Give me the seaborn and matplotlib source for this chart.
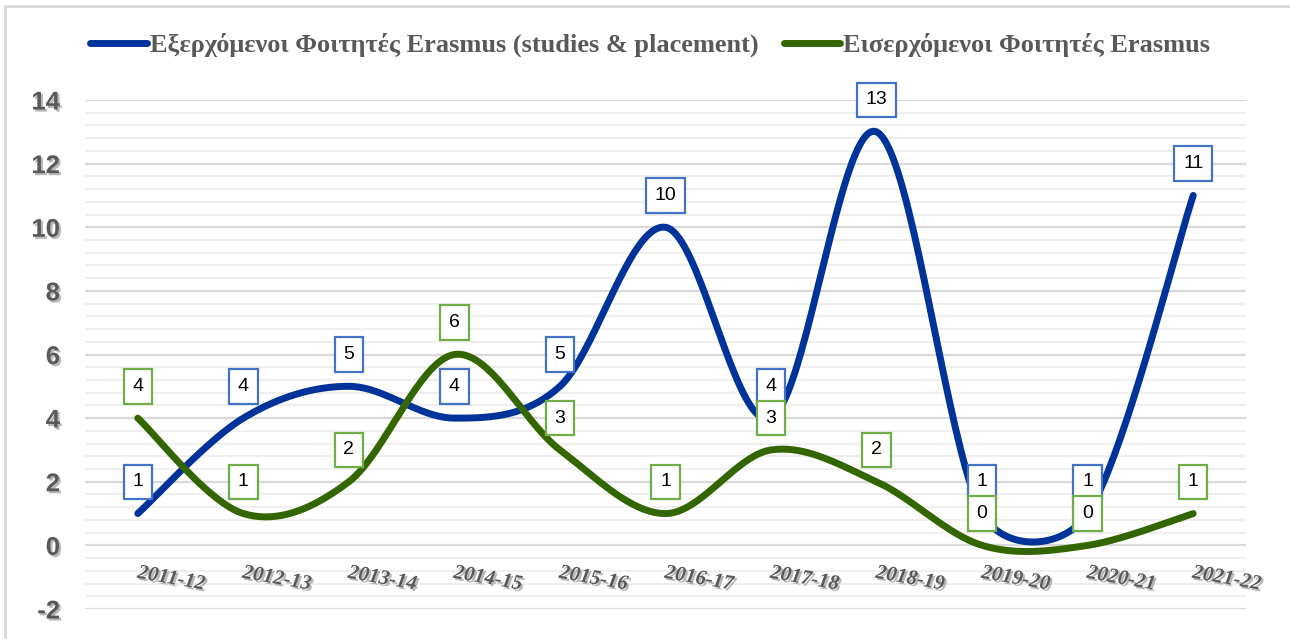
import numpy as np
import pandas as pd
import matplotlib
matplotlib.use("Agg")
import matplotlib.pyplot as plt
import matplotlib.patheffects as pe
import seaborn as sns

# data
years = ["2011-12", "2012-13", "2013-14", "2014-15", "2015-16", "2016-17",
         "2017-18", "2018-19", "2019-20", "2020-21", "2021-22"]
outgoing = [1, 4, 5, 4, 5, 10, 4, 13, 1, 1, 11]
incoming = [4, 1, 2, 6, 3, 1, 3, 2, 0, 0, 1]
label_out = "Εξερχόμενοι Φοιτητές Erasmus (studies & placement)"
label_in = "Εισερχόμενοι Φοιτητές Erasmus"
yticks = [-2, 0, 2, 4, 6, 8, 10, 12, 14]

BLUE = "#003399"
GREEN = "#336600"
BOX_BLUE = "#4472C4"
BOX_GREEN = "#70AD47"
GREY = "#595959"

# pixels per data unit, so the smoothing behaves like a screen-space spline
PX_X = 105.7
PX_Y = 31.8


def smooth_curve(values, clamp=0.42, n=40):
    """Catmull-Rom style bezier (tension 1/6), control arms clamped on short segments."""
    P = np.array([[i * PX_X, v * PX_Y] for i, v in enumerate(values)], float)
    m = len(P)
    tang = []
    for i in range(m):
        a = P[max(i - 1, 0)]
        b = P[min(i + 1, m - 1)]
        tang.append((b - a) / 6.0)
    xs, ys = [], []
    t = np.linspace(0, 1, n)
    for i in range(m - 1):
        L = np.linalg.norm(P[i + 1] - P[i])
        t1, t2 = tang[i], tang[i + 1]
        if np.linalg.norm(t1) > clamp * L:
            t1 = t1 / np.linalg.norm(t1) * clamp * L
        if np.linalg.norm(t2) > clamp * L:
            t2 = t2 / np.linalg.norm(t2) * clamp * L
        c1 = P[i] + t1
        c2 = P[i + 1] - t2
        pts = (((1 - t) ** 3)[:, None] * P[i] + (3 * (1 - t) ** 2 * t)[:, None] * c1
               + (3 * (1 - t) * t ** 2)[:, None] * c2 + (t ** 3)[:, None] * P[i + 1])
        xs.extend(pts[:, 0] / PX_X)
        ys.extend(pts[:, 1] / PX_Y)
    return np.array(xs), np.array(ys)


sns.set_theme(style="white")
plt.rcParams["font.family"] = ["DejaVu Sans"]

fig = plt.figure(figsize=(12.9, 6.39), dpi=100)
ax = fig.add_axes([85 / 1290, 1 - 609 / 639, (1246 - 85) / 1290, (609 - 100) / 639])

# gridlines
ax.set_ylim(-2, 14)
ax.set_xlim(-0.5, len(years) - 0.5)
ax.set_yticks(yticks)
ax.set_yticks(np.arange(-2, 14.01, 0.4), minor=True)
ax.grid(True, which="minor", axis="y", color="#efefef", lw=1.5)
ax.grid(True, which="major", axis="y", color="#d9d9d9", lw=1.6)
ax.set_axisbelow(True)
for sp in ax.spines.values():
    sp.set_visible(False)
ax.tick_params(axis="both", which="both", length=0)
ax.set_xticks([])

shadow = [pe.SimplePatchShadow(offset=(1.5, -1.5), shadow_rgbFace="#9a9a9a", alpha=0.7), pe.Normal()]
ax.set_yticklabels([str(v) for v in yticks])
for lab in ax.get_yticklabels():
    lab.set_fontfamily("Liberation Sans")
    lab.set_fontweight("bold")
    lab.set_fontsize(18.5)
    lab.set_color(GREY)
    lab.set_path_effects(shadow)
ax.tick_params(axis="y", pad=18)

# smoothed lines
bx, by = smooth_curve(outgoing)
gx, gy = smooth_curve(incoming)
df_b = pd.DataFrame({"x": bx, "y": by})
df_g = pd.DataFrame({"x": gx, "y": gy})
sns.lineplot(data=df_b, x="x", y="y", sort=False, color=BLUE, lw=5, ax=ax,
             label=label_out, solid_capstyle="round")
sns.lineplot(data=df_g, x="x", y="y", sort=False, color=GREEN, lw=5, ax=ax,
             label=label_in, solid_capstyle="round")
ax.set_xlabel("")
ax.set_ylabel("")

# data labels
for i, v in enumerate(outgoing):
    ax.text(i, v + 1, str(v), ha="center", va="center", fontsize=14,
            family="Liberation Sans", color="black", zorder=5,
            bbox=dict(boxstyle="square,pad=0.45", fc="white", ec=BOX_BLUE, lw=1.6))
for i, v in enumerate(incoming):
    ax.text(i, v + 1, str(v), ha="center", va="center", fontsize=14,
            family="Liberation Sans", color="black", zorder=5,
            bbox=dict(boxstyle="square,pad=0.45", fc="white", ec=BOX_GREEN, lw=1.6))

# category labels
for i, yr in enumerate(years):
    ax.text(i + 0.32, -1.05, yr, ha="center", va="center", rotation=-10,
            fontsize=15, family="Liberation Serif", fontweight="bold",
            fontstyle="italic", color=GREY, path_effects=shadow)

# legend
ax.get_legend().remove()
handles, labels = ax.get_legend_handles_labels()
leg = fig.legend(handles, labels, loc="center", bbox_to_anchor=(0.504, 1 - 45 / 639),
                 ncol=2, frameon=False, handlelength=2.15, handletextpad=0.1,
                 columnspacing=0.95, prop={"family": "Liberation Serif", "weight": "bold", "size": 19})
for t in leg.get_texts():
    t.set_color(GREY)

# chart border
fig.add_artist(plt.Line2D([5 / 1290, 5 / 1290], [0, 1 - 6 / 639], color="#d9d9d9", lw=2,
                          transform=fig.transFigure))
fig.add_artist(plt.Line2D([5 / 1290, 1], [1 - 6 / 639, 1 - 6 / 639], color="#d9d9d9", lw=2,
                          transform=fig.transFigure))

fig.savefig("out.png", dpi=100)
